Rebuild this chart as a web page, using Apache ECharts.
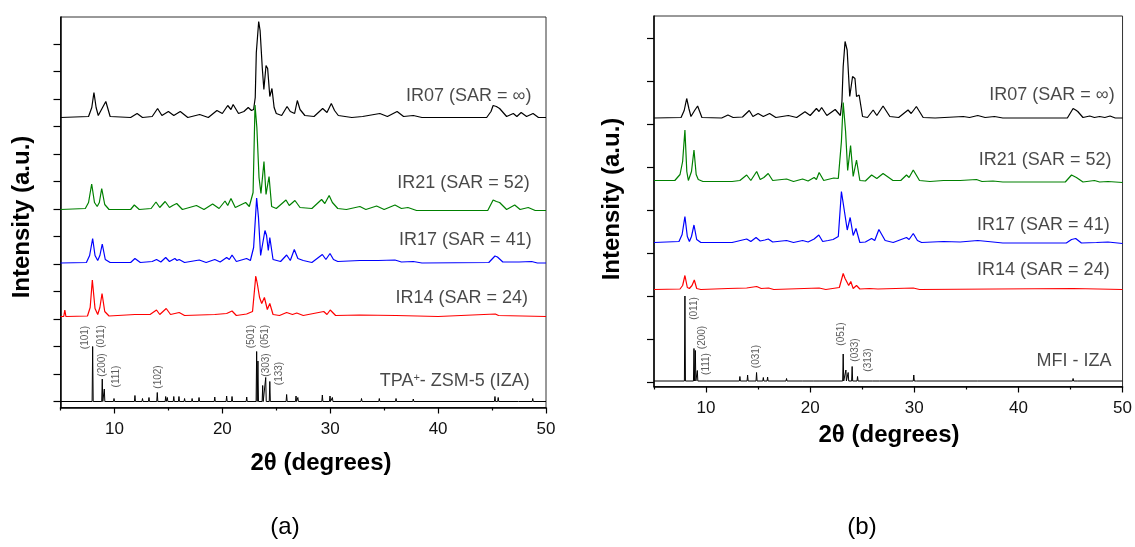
<!DOCTYPE html>
<html><head><meta charset="utf-8">
<script src="https://cdn.jsdelivr.net/npm/echarts@6/dist/echarts.min.js"></script>
<style>html,body{margin:0;padding:0;background:#fff}#c{width:1135px;height:547px}</style>
</head><body><div id="c"></div>
<script>
const FONT = "'Liberation Sans', Arial, sans-serif";

// ---------- Panel (a) data : [2theta (deg), intensity (a.u.)] ----------
const a_IR07 = [[5,290],[7.6,291],[7.9,300],[8.1,315],[8.3,300],[8.5,292],[8.9,300],[9.2,306],[9.6,291],[11.5,290],[12.1,294],[12.6,290],[13.5,291],[14.0,299],[14.4,292],[15.0,296],[15.5,292],[16.1,296],[16.8,290],[17.9,293],[18.7,290],[19.5,297],[20.0,294],[20.5,302],[20.8,298],[21.0,303],[21.5,294],[22.0,296],[22.4,300],[22.7,297],[22.9,298],[23.05,310],[23.15,355],[23.37,386],[23.5,377],[23.7,340],[23.85,318],[24.05,342],[24.2,339],[24.4,311],[24.6,319],[24.8,300],[25.0,294],[25.5,292],[26.0,301],[26.3,296],[26.4,298],[26.7,294],[26.95,307],[27.2,298],[27.65,292],[28.5,291],[29.3,299],[29.7,295],[30.1,304],[30.4,297],[30.75,292],[32,290],[33,291],[34.6,294],[35.3,291],[36.2,296],[36.8,291],[37.7,292],[38.5,290],[40,290],[42,290],[44.5,290],[44.9,296],[45.1,302],[45.4,301],[45.7,299],[46.35,291],[46.97,294],[47.3,291],[47.7,295],[48.2,291],[48.8,294],[49.3,290],[50,290]];
const a_IR21 = [[5,198],[7.3,199],[7.6,205],[7.89,223.5],[8.15,205],[8.4,201],[8.6,205],[8.82,219],[9.1,203],[9.5,198],[11.5,198],[11.84,202.5],[12.3,198],[13.4,199],[13.85,205.5],[14.2,200],[14.7,206],[15.1,200],[15.4,202],[15.77,204],[16.3,198],[17.6,202],[18.3,198],[19.1,203.5],[19.7,199],[20.25,206.5],[20.5,202],[20.8,209],[21.2,200],[22.16,205],[22.5,201],[22.85,215],[23.03,302.5],[23.2,280],[23.4,230],[23.58,214],[23.86,246],[24.05,213],[24.33,231],[24.57,201],[25.0,199],[25.9,207.5],[26.2,202],[26.73,207],[27.2,200],[28.3,199],[29.2,208],[29.5,204],[29.9,212],[30.2,205],[30.7,199],[31.5,198],[32.75,201],[33.3,198],[34.3,201.5],[35.0,198],[36.0,202.5],[36.6,199],[37.2,200],[38,197],[44.6,197],[45.1,207.5],[45.4,206],[45.7,205],[46.35,198],[47.1,202.5],[47.6,198],[48.35,200],[49,197],[50,197]];
const a_IR17 = [[5,144.5],[7.4,145],[7.7,152],[7.98,169],[8.2,152],[8.45,147],[8.65,152],[8.87,163.5],[9.15,148],[9.6,145],[11.5,145],[11.9,149],[12.4,145],[13.5,146],[13.9,148],[14.3,145.5],[14.75,150],[15.1,146],[15.6,149],[15.8,147],[16.0,148],[16.5,145],[17.86,147.5],[18.5,145],[19.3,148],[19.8,145.5],[20.4,150],[20.65,148],[20.9,152.5],[21.3,146],[22.25,149],[22.6,147],[22.9,160],[23.18,209.5],[23.35,190],[23.55,152],[23.95,177],[24.1,172],[24.26,157],[24.4,170],[24.7,148],[25.4,146],[25.96,152.5],[26.3,147],[26.67,158],[27.0,149],[27.5,147],[28.3,145],[29.27,153],[29.6,148],[29.98,154],[30.3,148],[30.7,146],[32.75,147],[34.45,147],[36.0,147.5],[36.6,145.5],[37.7,146],[38.5,144.5],[44.7,145],[45.27,151.5],[45.5,150.5],[46.0,145.5],[47.5,145.5],[48.67,146],[49.2,144.5],[50,144.5]];
const a_IR14 = [[5,91],[5.3,91],[5.4,97.5],[5.5,91],[7.5,91.5],[7.75,100],[7.95,127.5],[8.2,99],[8.45,93],[8.65,100],[8.85,114],[9.1,96],[9.5,91.5],[11.9,93],[13.3,93],[13.9,97.5],[14.2,93],[14.8,99],[15.2,93],[15.6,94],[16.0,95],[16.5,92],[19.3,93],[20.4,94],[20.9,96.5],[21.3,92],[22.25,93.5],[22.8,96],[23.1,131.5],[23.24,124],[23.45,110],[23.65,104],[23.9,110],[24.17,98],[24.4,104],[24.7,93],[25.3,92],[25.96,95],[26.5,93],[26.9,94.5],[27.5,92],[29.4,96],[29.7,93],[30.0,97.5],[30.5,92],[32.7,92.5],[36.1,92],[40,91],[45.3,93.5],[45.6,92],[50,91]];
// simulated reference pattern (sticks): peak positions and heights
const a_IZA_pos = [7.98,8.87,9.06,9.96,11.9,12.6,13.2,13.97,14.75,14.9,15.5,15.98,16.5,17.2,17.84,19.3,20.4,20.9,22.26,23.18,23.3,23.74,24.02,24.4,25.96,26.83,27.0,29.27,29.98,30.2,32.9,34.55,36.1,37.7,45.27,45.57,47.5,48.77];
const a_IZA_h   = [61,28.5,18.5,9,12,9,10,15,11,10,11,11,9,9,10,10.5,11.5,11,10.5,56,46.5,22,30,26,13,11.5,10,12.5,11.5,10,9,9,9,8.5,11,10,8,9];
const a_IZA_base = 6;

// ---------- Panel (b) data ----------
const b_IR07 = [[5,268.5],[7.6,269],[7.9,276],[8.14,288],[8.35,278],[8.55,270],[8.9,276],[9.19,280.5],[9.6,269],[11.5,268.5],[12.1,271.5],[12.6,269],[13.5,269.5],[14.15,276],[14.5,270],[15.0,273],[15.5,270],[16.1,273],[16.7,269],[17.9,271],[18.7,269],[19.5,274.8],[20.0,271],[20.6,278],[20.85,275],[21.1,279],[21.6,271],[22.4,277],[22.9,271],[23.05,285],[23.17,320],[23.35,345],[23.55,336.5],[23.8,290],[24.07,310],[24.3,308],[24.45,290],[24.7,291.5],[25.03,270],[25.5,269],[26.05,276.5],[26.4,271],[27.0,280.5],[27.65,270],[28.5,269],[29.4,276.5],[29.7,273],[30.2,280],[30.85,269],[32,268.5],[34.7,270],[35.3,269],[36.1,271],[36.8,269],[37.7,270],[38.5,268.5],[44.7,268.5],[45.25,278],[45.5,276.5],[45.7,275],[46.2,269],[46.85,270.5],[47.3,269],[47.8,270],[48.3,269],[48.8,270.5],[49.3,268.5],[50,268.5]];
const b_IR21 = [[5,206],[7.0,206],[7.5,212],[7.75,225],[7.97,256.5],[8.15,215],[8.3,206],[8.6,215],[8.84,236.5],[9.05,212],[9.25,207],[9.7,205],[12.5,205],[13.25,206],[13.9,211.5],[14.3,206],[14.86,215],[15.2,207],[15.55,209],[15.97,213],[16.4,206],[17.73,207.5],[18.4,205],[19.27,207.5],[19.8,205.5],[20.38,209],[20.6,207],[20.86,214],[21.3,206],[22.27,208.5],[22.7,208],[23.0,245],[23.17,284],[23.4,255],[23.6,216],[23.88,241],[24.13,210],[24.45,226.5],[24.77,206],[25.3,205.5],[25.9,211.5],[26.4,208],[27.0,213],[27.95,206],[28.7,206],[29.25,211.5],[29.5,209],[29.9,216.5],[30.5,206],[31.5,205],[32.8,206],[34.4,206],[35.97,207],[36.5,205],[37.56,205.5],[38.5,204.5],[44.5,204.5],[45.1,211.5],[45.57,209],[46.2,204.5],[47.3,206],[47.8,204.5],[48.6,205],[50,204]];
const b_IR17 = [[5,144],[7.4,145],[7.7,152],[7.97,170],[8.2,150],[8.4,145],[8.6,150],[8.84,161.5],[9.1,147],[9.5,144],[12.5,144],[13.9,147.5],[14.3,145],[14.8,149],[15.2,145.5],[15.65,146.5],[15.97,147.5],[16.4,144.5],[17.73,146],[18.4,144],[19.27,146],[19.8,144.5],[20.38,147.5],[20.83,151.5],[21.2,145],[21.73,146],[22.2,147],[22.7,150],[23.0,195],[23.27,176.5],[23.56,156.5],[23.84,169],[24.13,151],[24.4,158],[24.77,144],[25.3,144.5],[25.9,148],[26.2,146],[26.6,157],[27.2,146],[27.97,144],[29.25,149],[29.5,147],[29.9,153],[30.3,146],[30.7,144],[32.8,145],[34.4,144.5],[36.1,146],[37.56,144.5],[38.5,143.5],[44.6,143.5],[45.1,147],[45.5,148],[46.05,143.5],[47.5,144],[48.6,144.5],[50,143]];
const b_IR14 = [[5,97],[7.5,97.5],[7.75,101],[7.97,111],[8.2,99],[8.4,98],[8.65,101],[8.87,106.5],[9.1,98],[9.5,97],[12.1,98],[13.9,98.5],[14.86,100],[15.3,98],[16.0,98.5],[16.5,97],[20.86,98.5],[21.5,97],[22.8,99],[23.17,113],[23.35,108],[23.5,106],[23.7,101],[23.9,105],[24.13,98],[24.45,101],[24.77,97.5],[25.7,98],[26.5,97.5],[29.9,98.5],[30.5,97],[45.25,98],[50,97]];
const b_MFI_pos = [7.97,8.84,8.97,9.16,10.06,13.25,13.99,14.85,15.5,15.91,17.73,19.33,20.4,20.9,23.17,23.43,23.65,24.03,24.55,25.7,26.05,26.37,26.7,29.25,29.95,30.27,36.1,45.25,45.7];
const b_MFI_h   = [90.5,38,36,16,7,10,11.5,14,9,9.5,8,7,7.5,7.5,32.5,16.5,14,20,10,7,7,7,7,7.5,11.5,7.5,6.5,8,7.5];
const b_MFI_base = 5.5;

// ---------- tick labels / annotations ----------
const xTickLabels = [10,20,30,40,50];
const xMinorTicks = [5,15,25,35,45];
const aTicksY = [6,33.5,61,88.5,116,143.5,171,198.5,226,253.5,281,308.5,336,363.5];
const bTicksY = [4.5,47.5,90.5,133.5,176.5,219.5,262.5,305.5,348.5];

const a_names = ['IR07 (SAR = ∞)','IR21 (SAR = 52)','IR17 (SAR = 41)','IR14 (SAR = 24)','{n|TPA}{s|+}{n|- ZSM-5 (IZA)}'];
const a_namePos = [[48.65,311],[48.5,224],[48.67,167.5],[48.33,109],[48.5,26]];
const b_names = ['IR07 (SAR = ∞)','IR21 (SAR = 52)','IR17 (SAR = 41)','IR14 (SAR = 24)','MFI - IZA'];
const b_namePos = [[49.24,291.5],[48.93,226.5],[48.76,161.5],[48.76,116.5],[48.93,25]];

const a_hkl = ['(101)','(011)','(200)','(111)','(102)','(501)','(051)','(303)','(133)'];
const a_hklPos = [[7.27,70],[8.82,71],[8.91,42.5],[10.21,31],[14.06,30.5],[22.72,71],[23.95,71],[24.11,42.5],[25.28,34]];
const b_hkl = ['(011)','(200)','(111)','(031)','(051)','(033)','(313)'];
const b_hklPos = [[8.84,78],[9.61,49],[10.06,22.5],[14.86,30],[22.95,52.5],[24.29,36.5],[25.57,26.5]];

const colors = {IR07:'#000000', IR21:'#008000', IR17:'#0000ff', IR14:'#ff0000', ref:'#000000'};

function sticks(pos, hts, base){
  const pts = [[5, base]];
  for (let i = 0; i < pos.length; i++){
    pts.push([pos[i]-0.05, base],[pos[i], hts[i]],[pos[i]+0.05, base]);
  }
  pts.push([50, base]);
  return pts;
}

const chart = echarts.init(document.getElementById('c'), null, {renderer:'canvas'});

function xAxes(g){
  return [
    {gridIndex:g, type:'value', min:5, max:50, position:'bottom',
     axisLine:{show:true, lineStyle:{color:'#000', width:1.5}},
     axisTick:{show:true, customValues:xTickLabels, length:6, lineStyle:{color:'#000', width:1.2}},
     axisLabel:{show:true, customValues:xTickLabels, fontSize:17, color:'#111', fontFamily:FONT, margin:13},
     splitLine:{show:false}},
    {gridIndex:g, type:'value', min:5, max:50, position:'bottom', offset:0,
     axisLine:{show:false},
     axisTick:{show:true, customValues:xMinorTicks, length:3, lineStyle:{color:'#000', width:1.2}},
     axisLabel:{show:false}, splitLine:{show:false}}
  ];
}
function yAxis(g, max, ticks){
  return {gridIndex:g, type:'value', min:0, max:max,
    axisLine:{show:true, lineStyle:{color:'#000', width:1.5}},
    axisTick:{show:true, customValues:ticks, length:7, lineStyle:{color:'#000', width:1.2}},
    axisLabel:{show:false}, splitLine:{show:false}};
}
function line(xi, yi, data, color, w){
  return {type:'line', xAxisIndex:xi, yAxisIndex:yi, data:data, showSymbol:false, symbol:'none',
    lineStyle:{color:color, width:w}, animation:false, silent:true, z:3};
}
function nameLabels(xi, yi, names, pos){
  return {type:'scatter', xAxisIndex:xi, yAxisIndex:yi, symbolSize:0, animation:false, silent:true, z:5,
    data: names.map((n,i)=>({name:n, value:pos[i]})),
    label:{show:true, position:'left', distance:0, formatter:p=>p.name, fontSize:18, color:'#1a1a1a', fontFamily:FONT,
      rich:{n:{fontSize:18, color:'#1a1a1a', fontFamily:FONT}, s:{fontSize:11, color:'#1a1a1a', fontFamily:FONT, verticalAlign:'top', padding:[0,0,8,0]}}}};
}
function hklLabels(xi, yi, names, pos){
  return {type:'scatter', xAxisIndex:xi, yAxisIndex:yi, symbolSize:0, animation:false, silent:true, z:5,
    data: names.map((n,i)=>({name:n, value:pos[i]})),
    label:{show:true, position:'inside', rotate:90, formatter:p=>p.name, fontSize:10, color:'#333', fontFamily:FONT}};
}

const option = {
  backgroundColor:'#fff',
  animation:false,
  grid:[
    {left:60.5, top:17, width:485.5, height:390.5, show:true, borderColor:'#333', borderWidth:1, backgroundColor:'transparent'},
    {left:654, top:16, width:469, height:370.5, show:true, borderColor:'#333', borderWidth:1, backgroundColor:'transparent'}
  ],
  xAxis:[...xAxes(0), ...xAxes(1)],
  yAxis:[yAxis(0, 390.5, aTicksY), yAxis(1, 370.5, bTicksY)],
  series:[
    line(0,0,a_IR07,colors.IR07,1.2),
    line(0,0,a_IR21,colors.IR21,1.2),
    line(0,0,a_IR17,colors.IR17,1.2),
    line(0,0,a_IR14,colors.IR14,1.2),
    line(0,0,sticks(a_IZA_pos,a_IZA_h,a_IZA_base),colors.ref,1),
    line(2,1,b_IR07,colors.IR07,1.2),
    line(2,1,b_IR21,colors.IR21,1.2),
    line(2,1,b_IR17,colors.IR17,1.2),
    line(2,1,b_IR14,colors.IR14,1.2),
    line(2,1,sticks(b_MFI_pos,b_MFI_h,b_MFI_base),colors.ref,1),
    nameLabels(0,0,a_names,a_namePos),
    nameLabels(2,1,b_names,b_namePos),
    hklLabels(0,0,a_hkl,a_hklPos),
    hklLabels(2,1,b_hkl,b_hklPos)
  ],
  graphic:[
    {type:'text', x:22, y:217, rotation:Math.PI/2, style:{text:'Intensity (a.u.)', fontSize:24, fontWeight:'bold', fontFamily:FONT, fill:'#000', align:'center', verticalAlign:'middle'}},
    {type:'text', x:612, y:199, rotation:Math.PI/2, style:{text:'Intensity (a.u.)', fontSize:24, fontWeight:'bold', fontFamily:FONT, fill:'#000', align:'center', verticalAlign:'middle'}},
    {type:'text', x:321, y:463, style:{text:'2θ (degrees)', fontSize:24, fontWeight:'bold', fontFamily:FONT, fill:'#000', align:'center', verticalAlign:'middle'}},
    {type:'text', x:889, y:435, style:{text:'2θ (degrees)', fontSize:24, fontWeight:'bold', fontFamily:FONT, fill:'#000', align:'center', verticalAlign:'middle'}},
    {type:'text', x:285, y:527, style:{text:'(a)', fontSize:24, fontFamily:FONT, fill:'#000', align:'center', verticalAlign:'middle'}},
    {type:'text', x:862, y:527, style:{text:'(b)', fontSize:24, fontFamily:FONT, fill:'#000', align:'center', verticalAlign:'middle'}}
  ]
};
chart.setOption(option);
</script>
</body></html>
